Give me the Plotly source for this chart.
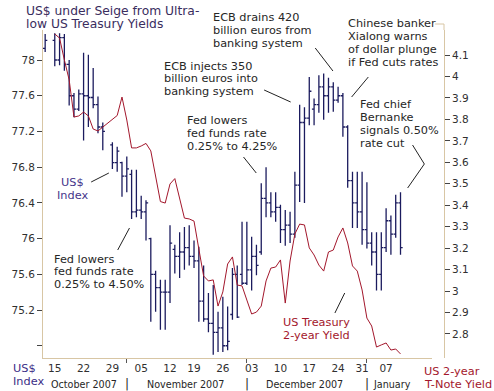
import plotly.graph_objects as go

# ---------------- data ----------------
slot_dates = [
    "2007-10-12", "2007-10-14", "2007-10-15", "2007-10-16", "2007-10-17", "2007-10-18", "2007-10-19",
    "2007-10-21", "2007-10-22", "2007-10-23", "2007-10-24", "2007-10-25", "2007-10-26",
    "2007-10-28", "2007-10-29", "2007-10-30", "2007-10-31", "2007-11-01", "2007-11-02",
    "2007-11-04", "2007-11-05", "2007-11-06", "2007-11-07", "2007-11-08", "2007-11-09",
    "2007-11-11", "2007-11-12", "2007-11-13", "2007-11-14", "2007-11-15", "2007-11-16",
    "2007-11-19", "2007-11-20", "2007-11-21", "2007-11-22", "2007-11-23",
    "2007-11-25", "2007-11-26", "2007-11-27", "2007-11-28", "2007-11-29", "2007-11-30",
    "2007-12-02", "2007-12-03", "2007-12-04", "2007-12-05", "2007-12-06", "2007-12-07",
    "2007-12-09", "2007-12-10", "2007-12-11", "2007-12-12", "2007-12-13", "2007-12-14",
    "2007-12-16", "2007-12-17", "2007-12-18", "2007-12-19", "2007-12-20", "2007-12-21",
    "2007-12-23", "2007-12-24", "2007-12-26", "2007-12-27", "2007-12-28",
    "2007-12-30", "2007-12-31", "2008-01-02", "2008-01-03", "2008-01-04",
    "2008-01-06", "2008-01-07", "2008-01-08", "2008-01-09", "2008-01-10",
]

bar_dates = [d for d in slot_dates if d not in ("2007-10-14", "2007-10-28")]

usd_open = [78.13, 78.22, 78.00, 78.25, 77.95, 77.60, 77.45, 77.62, 77.60, 77.58, 77.50, 77.25,
            77.05, 76.85, 76.85, 76.70, 76.72, 76.30, 76.32, 76.30, 76.00, 75.60, 75.45, 75.40,
            75.40, 75.88, 75.80, 75.85, 75.90, 75.80, 75.75, 75.30, 75.10, 75.05, 74.95, 75.00,
            74.80, 75.15, 75.60, 75.60, 75.50, 75.65, 75.80, 75.85, 76.45, 76.40, 76.30, 76.35,
            76.10, 76.15, 76.05, 76.60, 77.30, 77.35, 77.45, 77.50, 77.70, 77.60, 77.70, 77.55,
            77.60, 77.25, 76.65, 76.40, 76.30, 76.10, 75.95, 75.85, 75.60, 75.90, 76.20, 76.05,
            76.40]
usd_high = [78.29, 78.30, 78.30, 78.29, 78.00, 77.63, 77.67, 78.08, 78.06, 77.91, 77.59, 77.30,
            77.08, 77.03, 76.86, 76.92, 76.77, 76.77, 76.48, 76.43, 76.01, 75.64, 75.54, 75.54,
            76.15, 75.93, 76.07, 76.13, 76.15, 75.98, 75.91, 75.70, 75.39, 75.48, 75.18, 75.35,
            75.24, 75.67, 75.70, 76.19, 76.19, 76.02, 75.93, 76.62, 76.80, 76.52, 76.52, 76.38,
            76.32, 76.30, 76.75, 77.50, 77.47, 77.81, 77.57, 77.83, 77.85, 77.80, 77.75, 77.70,
            77.63, 77.27, 76.75, 76.75, 76.75, 76.63, 76.07, 76.07, 76.07, 76.34, 76.26, 76.49,
            76.52]
usd_low = [78.09, 77.93, 77.94, 77.88, 77.49, 77.36, 77.43, 77.10, 77.25, 77.46, 77.18, 76.99,
           76.78, 76.75, 76.47, 76.52, 76.22, 76.24, 76.22, 75.98, 75.07, 75.18, 74.98, 74.98,
           75.28, 75.61, 75.56, 75.65, 75.70, 75.67, 75.07, 75.07, 74.95, 74.70, 74.73, 74.73,
           74.75, 75.09, 75.11, 75.48, 75.48, 75.42, 75.59, 75.82, 76.24, 76.24, 76.19, 75.95,
           75.92, 75.95, 76.01, 76.41, 76.40, 77.27, 77.27, 77.41, 77.33, 77.41, 77.42, 77.52,
           77.14, 76.57, 76.12, 76.12, 75.93, 75.89, 75.70, 75.42, 75.42, 75.85, 75.82, 76.01,
           75.82]
usd_close = [78.22, 78.00, 78.25, 77.95, 77.60, 77.45, 77.62, 77.60, 77.58, 77.50, 77.25, 77.20,
             76.85, 76.98, 76.70, 76.78, 76.30, 76.32, 76.30, 76.40, 75.60, 75.45, 75.40, 75.40,
             75.95, 75.80, 75.85, 75.90, 75.80, 75.75, 75.30, 75.10, 75.05, 74.95, 75.00, 74.80,
             74.85, 75.60, 75.12, 75.50, 75.65, 75.80, 75.70, 76.45, 76.40, 76.30, 76.35, 76.10,
             76.15, 76.05, 76.60, 77.30, 77.35, 77.65, 77.50, 77.70, 77.60, 77.70, 77.55, 77.60,
             77.25, 76.65, 76.40, 76.30, 76.10, 75.95, 75.85, 75.60, 75.90, 76.20, 76.05, 76.40,
             75.90]

yield_dates = slot_dates[2:]
yield_values = [4.198, 4.179, 4.077, 3.984, 3.811, 3.816, 3.834, 3.816, 3.755, 3.746, 3.764,
                3.783, 3.802, 3.818, 3.904, 3.797, 3.667, 3.667, 3.676, 3.688, 3.653, 3.527,
                3.417, 3.410, 3.499, 3.524, 3.434, 3.340, 3.336, 3.326, 3.196, 3.070, 3.047,
                3.052, 2.930, 2.996, 3.126, 3.159, 3.028, 3.024, 2.958, 2.893, 2.902, 2.930,
                3.047, 3.107, 3.112, 3.145, 2.944, 3.140, 3.266, 3.312, 3.308, 3.201, 3.168,
                3.121, 3.093, 3.182, 3.191, 3.252, 3.294, 3.224, 3.117, 3.093, 3.005, 2.874,
                2.837, 2.739, 2.749, 2.758, 2.725, 2.730, 2.707]

week_ticks = ["2007-10-15", "2007-10-22", "2007-10-29", "2007-11-05", "2007-11-12", "2007-11-19",
              "2007-11-26", "2007-12-03", "2007-12-10", "2007-12-17", "2007-12-24", "2007-12-31",
              "2008-01-07"]
week_labels = ["15", "22", "29", "05", "12", "19", "26", "03", "10", "17", "24", "31", "07"]
month_labels = ["October 2007", "November 2007", "December 2007", "January"]

usd_ticks = [74.8, 75.2, 75.6, 76.0, 76.4, 76.8, 77.2, 77.6, 78.0]
usd_tick_labels = ["", "75.2", "75.6", "76", "76.4", "76.8", "77.2", "77.6", "78"]
yld_ticks = [2.8, 2.9, 3.0, 3.1, 3.2, 3.3, 3.4, 3.5, 3.6, 3.7, 3.8, 3.9, 4.0, 4.1]

# ---------------- helpers ----------------
pos = {d: i for i, d in enumerate(slot_dates)}
month_starts = [i for i in range(1, len(slot_dates)) if slot_dates[i][5:7] != slot_dates[i - 1][5:7]]

L, R, T, B = 36, 444, 30, 358


def px(x):
    return (x - L) / (R - L)


def py(y):
    return (B - y) / (B - T)


NAVY = "#1b1b5e"
RED = "#a3172c"
FONT = "DejaVu Sans"
AXIS = "#d8c6a4"

fig = go.Figure()
fig.add_trace(go.Ohlc(
    x=[pos[d] for d in bar_dates], open=usd_open, high=usd_high, low=usd_low, close=usd_close,
    increasing=dict(line=dict(color=NAVY, width=1.3)),
    decreasing=dict(line=dict(color=NAVY, width=1.3)),
    tickwidth=0.45, showlegend=False, hoverinfo="skip",
))
fig.add_trace(go.Scatter(
    x=[pos[d] for d in yield_dates], y=yield_values, yaxis="y2", mode="lines",
    line=dict(color=RED, width=1), showlegend=False, hoverinfo="skip",
))

annotations = []


def text(t, x, y, color="#262626", size=11.3, anchor="left"):
    annotations.append(dict(text=t, x=px(x), y=py(y), xref="paper", yref="paper",
                            xanchor=anchor, yanchor="middle", showarrow=False,
                            font=dict(family=FONT, size=size, color=color)))


shapes = []


def seg(x0, y0, x1, y1, color="#222222"):
    shapes.append(dict(type="line", xref="paper", yref="paper", x0=px(x0), y0=py(y0),
                       x1=px(x1), y1=py(y1), line=dict(color=color, width=1)))


TITLE = "#3a2d5e"
text("US$ under Seige from Ultra-", 17, 11, TITLE, 12.3)
text("low US Treasury Yields", 17, 23.5, TITLE, 12.3)

for i, t in enumerate(["ECB drains 420", "billion euros from", "banking system"]):
    text(t, 207, 17 + 13 * i)
seg(313, 48, 331, 71)

for i, t in enumerate(["ECB injects 350", "billion euros into", "banking system"]):
    text(t, 157, 66 + 12.8 * i)
seg(261, 90, 288, 102)

for i, t in enumerate(["Fed lowers", "fed funds rate", "0.25% to 4.25%"]):
    text(t, 180, 120 + 13 * i)
seg(240, 157, 253, 173)

for i, t in enumerate(["Chinese banker", "Xialong warns", "of dollar plunge", "if Fed cuts rates"]):
    text(t, 344, 24 + 12.9 * i)
seg(367, 77, 350, 97)
seg(435, 24, 444, 24, AXIS)
seg(444, 24, 444, 30, AXIS)

for i, t in enumerate(["Fed chief", "Bernanke", "signals 0.50%", "rate cut"]):
    text(t, 357, 104 + 13 * i)
seg(412, 145, 424, 164)
seg(424, 164, 407, 188)

INDEX = "#45358a"
text("US$", 66, 182, INDEX, anchor="center")
text("Index", 66, 195, INDEX, anchor="center")
seg(85, 182, 103, 173)

for i, t in enumerate(["Fed lowers", "fed funds rate", "0.25% to 4.50%"]):
    text(t, 45, 259 + 12.6 * i)
seg(112, 250, 124, 228)

text("US Treasury", 278, 322, RED)
text("2-year Yield", 278, 335, RED)
seg(333, 313, 343, 293)

text("US$", 3, 368, "#3b2e86")
text("Index", 3, 381, "#3b2e86")
text("US 2-year", 422, 371, RED)
text("T-Note Yield", 422, 384, RED)

for t, cx in zip(month_labels, [78, 181, 302.5, 391]):
    text(t, cx, 384, "#262626", 9.6, "center")
for mi in month_starts:
    annotations.append(dict(text="|", x=mi, y=py(384), xref="x", yref="paper",
                            xanchor="center", yanchor="middle", showarrow=False,
                            font=dict(family=FONT, size=12, color="#262626")))

fig.update_layout(
    width=494, height=391,
    margin=dict(l=L, r=494 - R, t=T, b=391 - B, pad=0),
    paper_bgcolor="white", plot_bgcolor="white",
    font=dict(family=FONT, size=10.5, color="#303030"),
    showlegend=False,
    xaxis=dict(
        domain=[0, (432 - L) / (R - L)], range=[-0.45, 80.6],
        rangeslider=dict(visible=False),
        tickmode="array", tickvals=[pos[d] for d in week_ticks], ticktext=week_labels,
        ticks="", showgrid=False, zeroline=False,
        showline=True, linecolor=AXIS, linewidth=1,
        tickfont=dict(size=10.5, color="#303030"),
        minor=dict(tickmode="array", tickvals=month_starts, ticks="outside", ticklen=4,
                   tickcolor="#555555", showgrid=False),
    ),
    yaxis=dict(
        range=[74.663, 78.336], tickmode="array", tickvals=usd_ticks, ticktext=usd_tick_labels,
        ticks="outside", ticklen=5, tickcolor="#444444", showgrid=False, zeroline=False,
        showline=True, linecolor=AXIS, linewidth=1,
        tickfont=dict(size=10.5, color="#303030"),
    ),
    yaxis2=dict(
        overlaying="y", side="right", anchor="free", position=1,
        range=[2.688, 4.2165], tickmode="array", tickvals=yld_ticks,
        ticks="outside", ticklen=5, tickcolor="#444444", showgrid=False, zeroline=False,
        showline=True, linecolor=AXIS, linewidth=1,
        tickfont=dict(size=10.5, color="#303030"),
    ),
    annotations=annotations,
    shapes=shapes,
)

fig.write_html("out.html", config={"displayModeBar": False},
               post_script="document.body.style.margin='0px';")
